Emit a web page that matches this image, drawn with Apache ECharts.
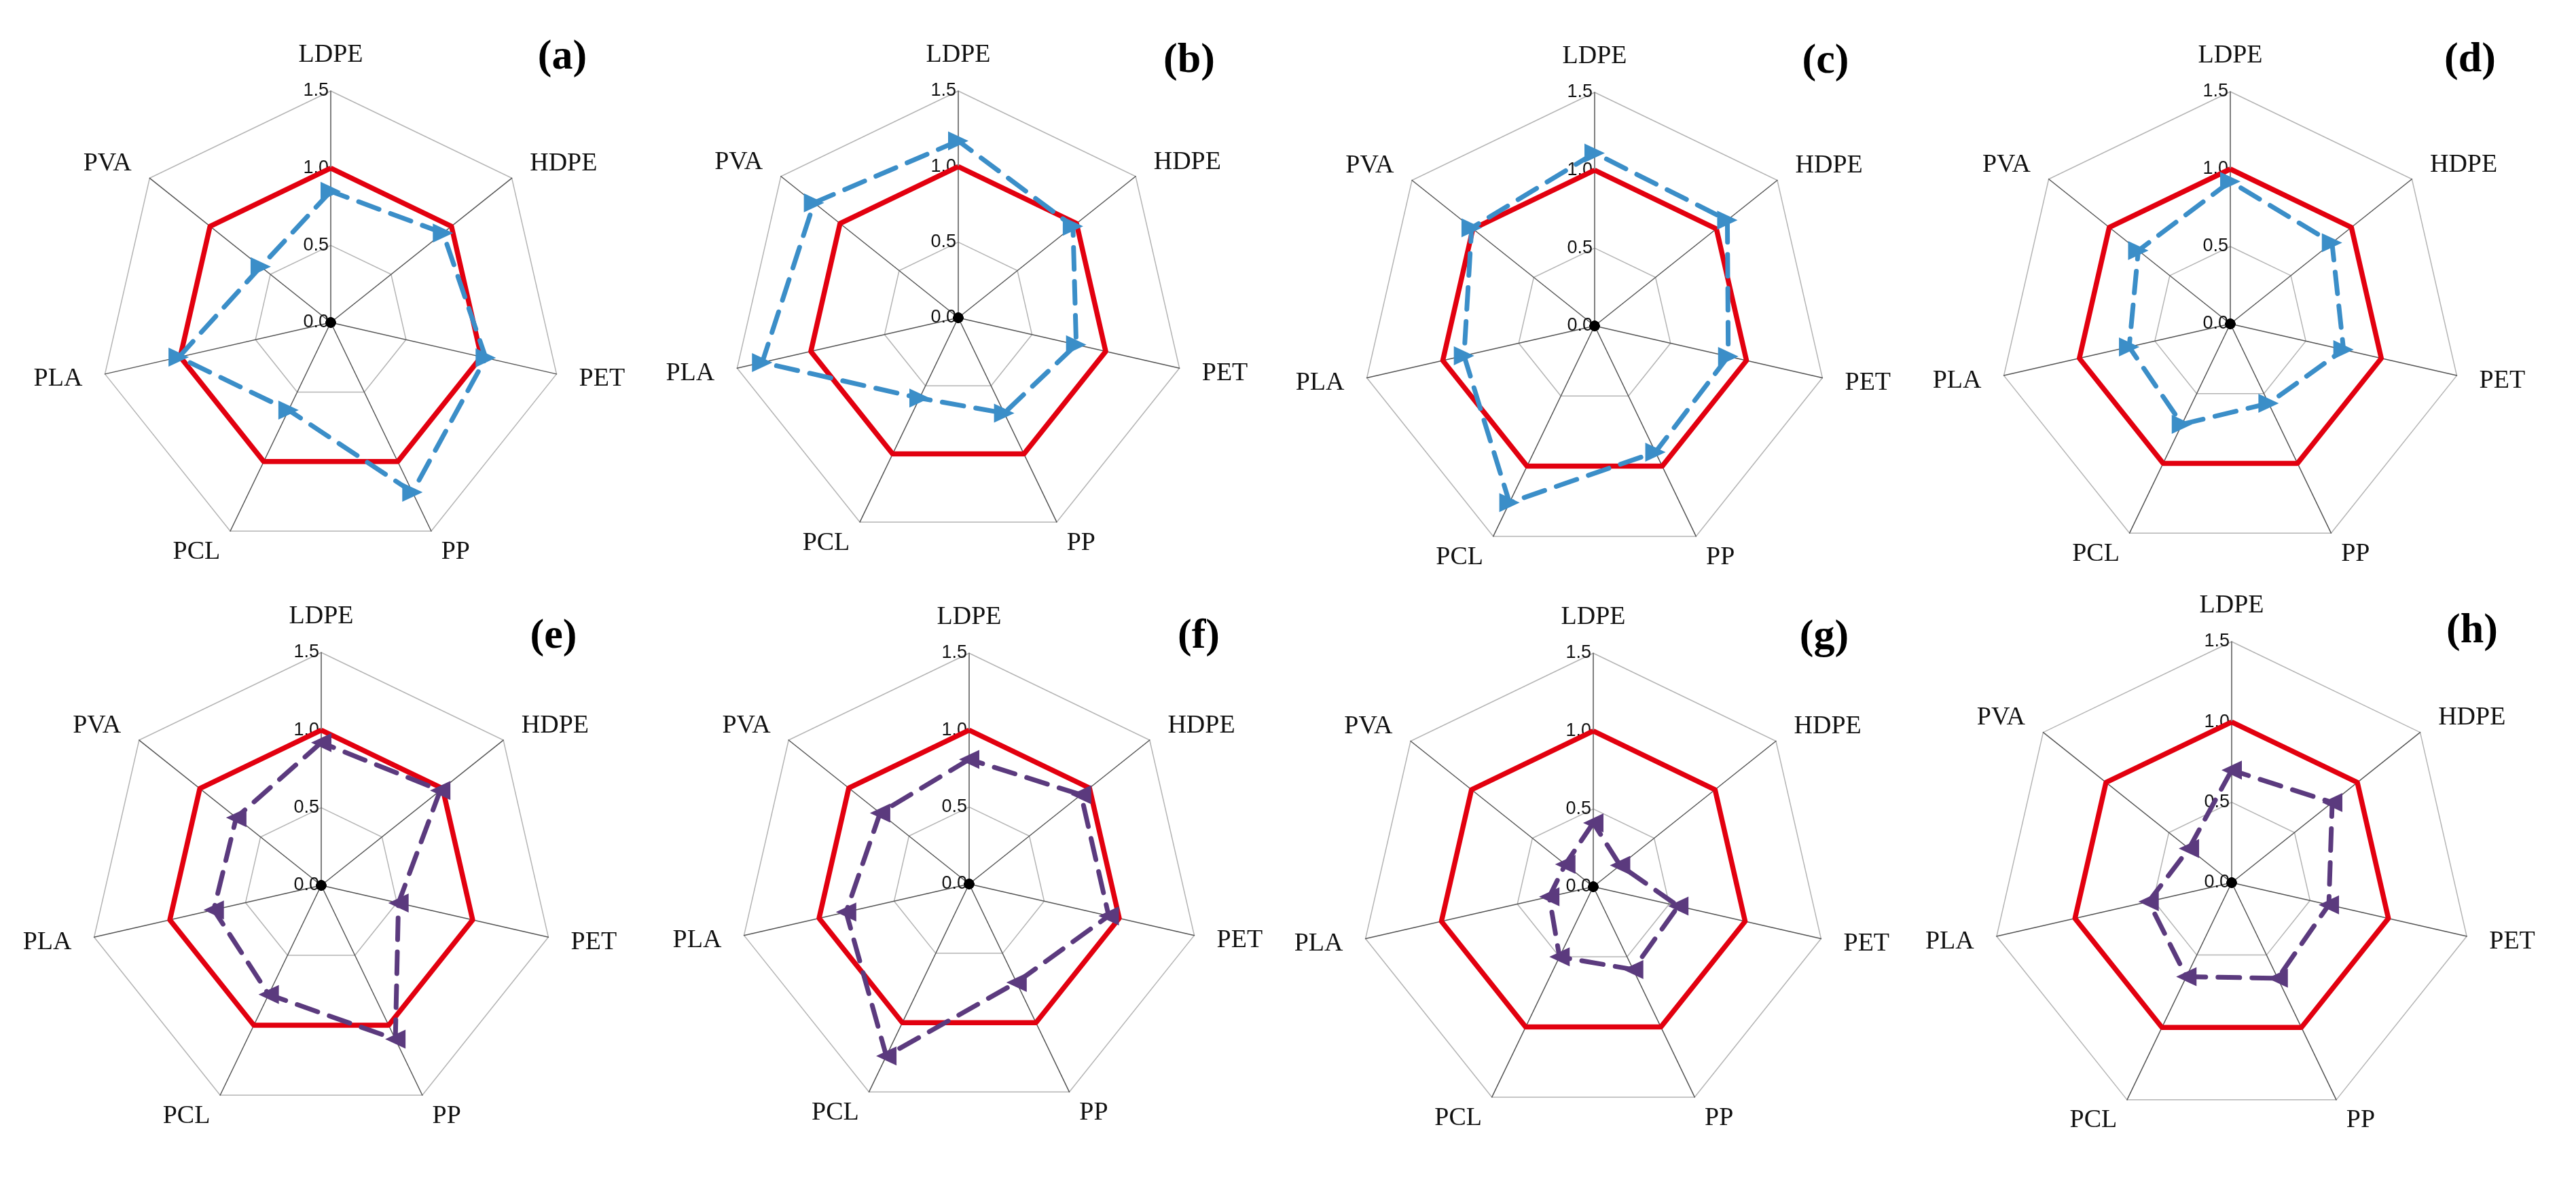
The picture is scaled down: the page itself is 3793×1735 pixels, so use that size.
<!DOCTYPE html>
<html>
<head>
<meta charset="utf-8">
<script src="https://cdn.jsdelivr.net/npm/echarts@6/dist/echarts.min.js"></script>
<style>
html,body{margin:0;padding:0;background:#ffffff;}
#chart{width:3793px;height:1735px;}
</style>
</head>
<body>
<div id="chart"></div>
<script>
// ---------- data ----------
const indicators = ['LDPE', 'HDPE', 'PET', 'PP', 'PCL', 'PLA', 'PVA'];
const tickLabels = ['0.0', '0.5', '1.0', '1.5'];
const panelLabels = ['(a)', '(b)', '(c)', '(d)', '(e)', '(f)', '(g)', '(h)'];
const reference = [1.0, 1.0, 1.0, 1.0, 1.0, 1.0, 1.0];
const sampleA = [0.85, 0.93, 1.03, 1.22, 0.63, 1.01, 0.58];
const sampleB = [1.17, 0.97, 0.80, 0.70, 0.59, 1.33, 1.22];
const sampleC = [1.11, 1.09, 0.88, 0.90, 1.26, 0.86, 1.01];
const sampleD = [0.92, 0.84, 0.75, 0.57, 0.72, 0.67, 0.76];
const sampleE = [0.92, 0.98, 0.51, 1.10, 0.78, 0.71, 0.70];
const sampleF = [0.81, 0.93, 0.93, 0.71, 1.24, 0.82, 0.74];
const sampleG = [0.41, 0.22, 0.56, 0.59, 0.50, 0.29, 0.23];
const sampleH = [0.70, 0.80, 0.62, 0.66, 0.65, 0.53, 0.34];
const samples = [sampleA, sampleB, sampleC, sampleD, sampleE, sampleF, sampleG, sampleH];
const origin = [0, 0, 0, 0, 0, 0, 0];

// ---------- layout ----------
const layout = [
  {cx: 487,  cy: 475,  r: 341},
  {cx: 1411, cy: 468,  r: 334},
  {cx: 2348, cy: 480,  r: 344},
  {cx: 3284, cy: 477,  r: 342},
  {cx: 473,  cy: 1304, r: 343},
  {cx: 1427, cy: 1302, r: 340},
  {cx: 2346, cy: 1306, r: 344},
  {cx: 3286, cy: 1300, r: 355}
];
const labelOffset = [[341,-390],[340,-378],[340,-389],[353,-388],[342,-366],[338,-364],[340,-367],[354,-370]];

// ECharts radar goes counter-clockwise; reorder so the picture reads clockwise
const order = [0, 6, 5, 4, 3, 2, 1];
const reorder = arr => order.map(i => arr[i]);

const BLUE = '#3b8ec8';
const PURPLE = '#5b3a7e';
const RED = '#e2000f';

const radars = [];
const series = [];
const graphics = [];

layout.forEach((p, k) => {
  radars.push({
    center: [p.cx, p.cy],
    radius: p.r,
    startAngle: 90,
    shape: 'polygon',
    splitNumber: 3,
    indicator: order.map(i => {
      const ind = {name: indicators[i], min: 0, max: 1.5};
      if (i === 0) {
        ind.axisLabel = {
          show: true,
          color: '#111',
          fontFamily: 'Liberation Sans',
          fontSize: 27,
          margin: 3,
          formatter: v => tickLabels[Math.round(v / 0.5)]
        };
      }
      return ind;
    }),
    axisName: {color: '#111', fontFamily: 'Liberation Serif', fontSize: 38},
    axisNameGap: 34,
    axisLine: {show: true, lineStyle: {color: '#555555', width: 1.5}},
    splitLine: {show: true, lineStyle: {color: '#b4b4b4', width: 1.5}},
    splitArea: {show: false},
    axisTick: {show: false},
    axisLabel: {show: false}
  });

  const isTop = k < 4;
  const col = isTop ? BLUE : PURPLE;

  series.push({
    type: 'radar',
    radarIndex: k,
    z: 3,
    symbol: 'none',
    silent: true,
    lineStyle: {color: RED, width: 7.5},
    data: [{value: reorder(reference)}]
  });
  series.push({
    type: 'radar',
    radarIndex: k,
    z: 4,
    symbol: 'triangle',
    symbolSize: [28, 30],
    symbolRotate: isTop ? -90 : 90,
    silent: true,
    itemStyle: {color: col},
    lineStyle: {color: col, width: 7, type: [32, 18], cap: 'round'},
    data: [{value: reorder(samples[k])}]
  });
  series.push({
    type: 'radar',
    radarIndex: k,
    z: 5,
    symbol: 'circle',
    symbolSize: 15,
    silent: true,
    itemStyle: {color: '#000'},
    lineStyle: {width: 0, opacity: 0},
    data: [{value: reorder(origin)}]
  });

  graphics.push({
    type: 'text',
    x: p.cx + labelOffset[k][0],
    y: p.cy + labelOffset[k][1],
    style: {
      text: panelLabels[k],
      font: 'bold 62px "Liberation Serif"',
      fill: '#000',
      textAlign: 'center',
      textVerticalAlign: 'middle'
    }
  });
});

const chart = echarts.init(document.getElementById('chart'), null, {renderer: 'canvas'});
chart.setOption({
  backgroundColor: '#ffffff',
  animation: false,
  radar: radars,
  series: series,
  graphic: graphics
});
</script>
</body>
</html>
